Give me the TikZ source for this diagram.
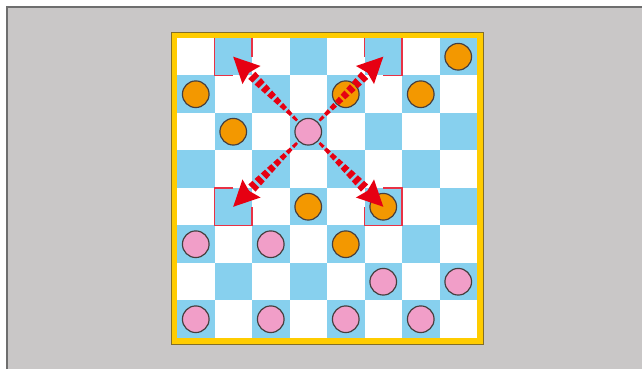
\documentclass[tikz,border=0pt]{standalone}
\usetikzlibrary{arrows.meta}
\definecolor{bggray}{RGB}{201,199,199}
\definecolor{edgegray}{RGB}{110,110,110}
\definecolor{frameyellow}{RGB}{255,204,0}
\definecolor{framedark}{RGB}{130,110,40}
\definecolor{cellblue}{RGB}{135,208,238}
\definecolor{piecepink}{RGB}{241,158,200}
\definecolor{pieceorange}{RGB}{243,152,0}
\definecolor{piecegray}{RGB}{70,62,62}
\definecolor{arrowred}{RGB}{230,0,18}
\definecolor{markline}{RGB}{232,50,70}
\tikzset{
  piece/.style={draw=piecegray,line width=0.9pt},
  markred/.style={draw=markline,line width=0.8pt}
}
\begin{document}
\begin{tikzpicture}[line width=0.8pt,>=Stealth]
\def\pr{0.355}
% ---- page and grey panel ----
\fill[white] (-4.72,-0.827) rectangle (12.4,9.013);
\useasboundingbox (-4.72,-0.827) rectangle (12.4,9.013);
\fill[bggray] (-4.533,-0.827) rectangle (12.4,8.827);
\draw[edgegray,line width=1.4pt] (-4.533,-0.827) -- (-4.533,8.827) -- (12.4,8.827);
% ---- yellow frame ----
\draw[fill=frameyellow,draw=framedark,line width=0.6pt] (-0.16,-0.16) rectangle (8.16,8.16);
% ---- squares ----
\fill[white] (0,0) rectangle (8,8);
\foreach \c in {0,...,7}{
  \foreach \r in {0,...,7}{
    \pgfmathparse{int(mod(\c+\r,2))}
    \ifnum\pgfmathresult=0
      \fill[cellblue] (\c,\r) rectangle ++(1,1);
    \fi
  }
}
% ---- target marks (open towards the moving piece) ----
\draw[markred] (2,8) -- (2,7.5);
\draw[markred] (1,8) -- (1,7) -- (1.5,7);
\draw[markred] (5,8) -- (5,7.5);
\draw[markred] (5.5,7) -- (6,7) -- (6,8);
\draw[markred] (1.5,4) -- (1,4) -- (1,3) -- (2,3) -- (2,3.5);
\draw[markred] (5.5,4) -- (6,4) -- (6,3) -- (5,3) -- (5,3.5);
% ---- pieces ----
\foreach \c/\r in {7/7,0/6,4/6,6/6,1/5,3/3,5/3,4/2}{
  \draw[piece,fill=pieceorange] (\c+0.5,\r+0.5) circle (\pr);
}
\foreach \c/\r in {0/2,2/2,5/1,7/1,0/0,2/0,4/0,6/0}{
  \draw[piece,fill=piecepink] (\c+0.5,\r+0.5) circle (\pr);
}
% ---- tapered dashed arrows ----
\coordinate (mover) at (3.5,5.5);
\foreach \ang in {45,135,225,315}{
  \begin{scope}[shift={(mover)},rotate=\ang]
    \foreach \i in {0,...,8}{
      \pgfmathsetmacro\xa{0.2+\i*0.222}
      \pgfmathsetmacro\xb{\xa+0.15}
      \pgfmathsetmacro\wa{0.022+\i*0.013}
      \pgfmathsetmacro\wb{\wa+0.009}
      \fill[arrowred] (\xa,-\wa) -- (\xb,-\wb) -- (\xb,\wb) -- (\xa,\wa) -- cycle;
    }
    \fill[arrowred] (2.83,0) -- (2.14,0.34) -- (2.23,0) -- (2.14,-0.34) -- cycle;
  \end{scope}
}
% ---- moving piece on top ----
\draw[piece,fill=piecepink] (mover) circle (\pr);
\end{tikzpicture}
\end{document}
